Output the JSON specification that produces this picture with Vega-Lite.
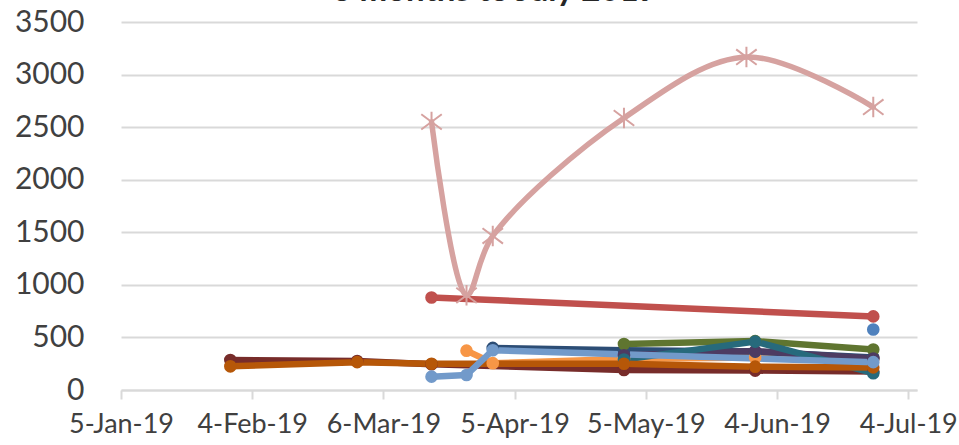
{
  "$schema": "https://vega.github.io/schema/vega-lite/v6.json",
  "width": 796,
  "height": 368,
  "autosize": {"type": "none"},
  "padding": {"left": 121, "top": 22, "right": 42, "bottom": 55},
  "background": "white",
  "config": {"view": {"stroke": null}},
  "title": {"text": "6 months to July 2019", "font": "Lato", "fontSize": 33, "fontWeight": "bold", "color": "#262626", "frame": "group", "anchor": "middle", "baseline": "alphabetic", "offset": 0, "dy": 27, "dx": -24},
  "data": {"values": [
    {"s": "Blue", "d": "2019-06-26", "v": 575},
    {"s": "Red", "d": "2019-03-17", "v": 880},
    {"s": "Red", "d": "2019-06-26", "v": 700},
    {"s": "Orange", "d": "2019-03-25", "v": 374},
    {"s": "Orange", "d": "2019-03-31", "v": 255},
    {"s": "Orange", "d": "2019-04-30", "v": 295},
    {"s": "Orange", "d": "2019-05-30", "v": 310},
    {"s": "Orange", "d": "2019-06-26", "v": 300},
    {"s": "DarkBlue", "d": "2019-03-31", "v": 400},
    {"s": "DarkBlue", "d": "2019-04-30", "v": 378},
    {"s": "DarkBlue", "d": "2019-05-30", "v": 365},
    {"s": "DarkBlue", "d": "2019-06-26", "v": 310},
    {"s": "Maroon", "d": "2019-01-30", "v": 285},
    {"s": "Maroon", "d": "2019-02-28", "v": 275},
    {"s": "Maroon", "d": "2019-03-17", "v": 245},
    {"s": "Maroon", "d": "2019-04-30", "v": 190},
    {"s": "Maroon", "d": "2019-05-30", "v": 185},
    {"s": "Maroon", "d": "2019-06-26", "v": 175},
    {"s": "Olive", "d": "2019-04-30", "v": 437},
    {"s": "Olive", "d": "2019-05-30", "v": 465},
    {"s": "Olive", "d": "2019-06-26", "v": 385},
    {"s": "Purple", "d": "2019-04-30", "v": 330},
    {"s": "Purple", "d": "2019-05-30", "v": 370},
    {"s": "Purple", "d": "2019-06-26", "v": 300},
    {"s": "Teal", "d": "2019-04-30", "v": 290},
    {"s": "Teal", "d": "2019-05-30", "v": 460},
    {"s": "Teal", "d": "2019-06-26", "v": 160},
    {"s": "DarkOrange", "d": "2019-01-30", "v": 225},
    {"s": "DarkOrange", "d": "2019-02-28", "v": 265},
    {"s": "DarkOrange", "d": "2019-03-17", "v": 250},
    {"s": "DarkOrange", "d": "2019-04-30", "v": 250},
    {"s": "DarkOrange", "d": "2019-05-30", "v": 222},
    {"s": "DarkOrange", "d": "2019-06-26", "v": 215},
    {"s": "LightBlue", "d": "2019-03-17", "v": 127},
    {"s": "LightBlue", "d": "2019-03-25", "v": 143},
    {"s": "LightBlue", "d": "2019-03-31", "v": 378},
    {"s": "LightBlue", "d": "2019-06-26", "v": 265},
    {"s": "Pink", "d": "2019-03-17", "v": 2550},
    {"s": "Pink", "d": "2019-03-25", "v": 900},
    {"s": "Pink", "d": "2019-03-31", "v": 1465},
    {"s": "Pink", "d": "2019-04-30", "v": 2587},
    {"s": "Pink", "d": "2019-05-28", "v": 3167},
    {"s": "Pink", "d": "2019-06-26", "v": 2691}
  ]},
  "encoding": {
    "x": {
      "field": "d", "type": "temporal",
      "scale": {"type": "utc", "domain": [{"year": 2019, "month": 1, "date": 5, "utc": true}, {"year": 2019, "month": 7, "date": 6, "utc": true}]},
      "axis": {
        "title": null,
        "values": [
          {"year": 2019, "month": 1, "date": 5, "utc": true},
          {"year": 2019, "month": 2, "date": 4, "utc": true},
          {"year": 2019, "month": 3, "date": 6, "utc": true},
          {"year": 2019, "month": 4, "date": 5, "utc": true},
          {"year": 2019, "month": 5, "date": 5, "utc": true},
          {"year": 2019, "month": 6, "date": 4, "utc": true},
          {"year": 2019, "month": 7, "date": 4, "utc": true}
        ],
        "labelExpr": "utcFormat(datum.value, '%-d-%b-%y')",
        "grid": false,
        "domainColor": "#D9D9D9", "domainWidth": 2,
        "tickColor": "#D9D9D9", "tickWidth": 2, "tickSize": 9,
        "labelFont": "Lato", "labelFontSize": 27, "labelColor": "#404040",
        "labelPadding": 12, "labelFlush": false, "labelOverlap": false
      }
    },
    "y": {
      "field": "v", "type": "quantitative",
      "scale": {"domain": [0, 3500], "nice": false},
      "axis": {
        "title": null,
        "values": [0, 500, 1000, 1500, 2000, 2500, 3000, 3500],
        "format": "d",
        "grid": true, "gridColor": "#D9D9D9", "gridWidth": 2,
        "domain": false, "ticks": false,
        "labelFont": "Lato", "labelFontSize": 30, "labelColor": "#404040",
        "labelPadding": 37
      }
    },
    "color": {
      "field": "s", "type": "nominal", "legend": null,
      "scale": {
        "domain": ["Blue", "Red", "Orange", "DarkBlue", "Maroon", "Olive", "Purple", "Teal", "DarkOrange", "LightBlue", "Pink"],
        "range": ["#4F81BD", "#C0504D", "#F79646", "#2C4D75", "#772C2A", "#5F7530", "#4D3B62", "#276A7C", "#B65708", "#729ACA", "#D6A2A0"]
      }
    }
  },
  "layer": [
    {
      "transform": [{"filter": "datum.s != 'Pink'"}],
      "mark": {"type": "line", "strokeWidth": 6.5, "strokeCap": "round", "strokeJoin": "round"}
    },
    {
      "transform": [{"filter": "datum.s != 'Pink'"}],
      "mark": {"type": "circle", "size": 160, "opacity": 1}
    },
    {
      "transform": [{"filter": "datum.s == 'Pink'"}],
      "mark": {"type": "line", "strokeWidth": 5.5, "interpolate": "catmull-rom", "strokeCap": "round"}
    },
    {
      "transform": [{"filter": "datum.s == 'Pink'"}],
      "mark": {"type": "point", "filled": false, "size": 420, "strokeWidth": 2, "opacity": 1, "shape": "M-1,-0.75L1,0.75M-1,0.75L1,-0.75M0,-1L0,1"}
    }
  ]
}
